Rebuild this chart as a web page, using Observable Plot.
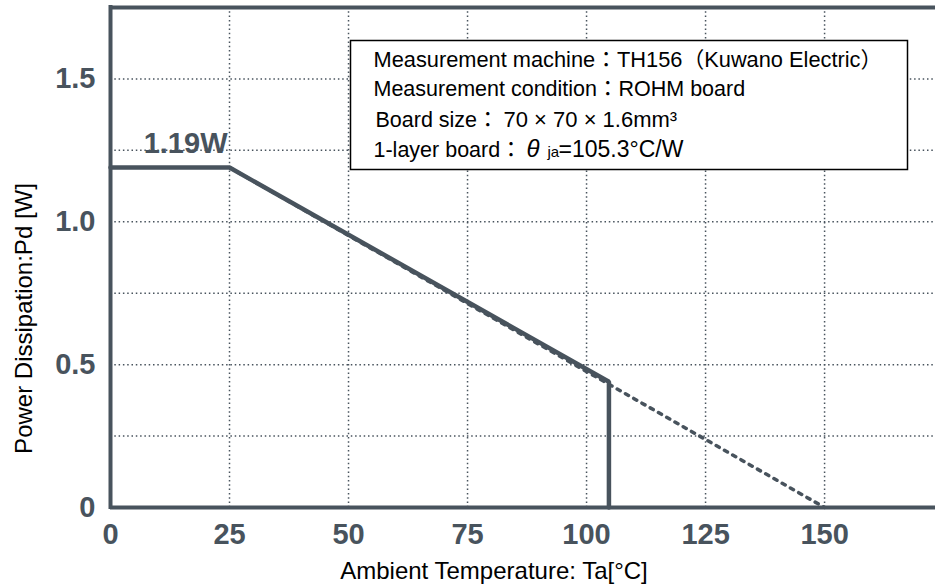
<!DOCTYPE html>
<html>
<head>
<meta charset="utf-8">
<script src="https://cdn.jsdelivr.net/npm/d3@7"></script>
<script src="https://cdn.jsdelivr.net/npm/@observablehq/plot@0.6"></script>
<style>
  html, body { margin: 0; padding: 0; background: #fff; overflow: hidden; }
  #chart svg { display: block; }
</style>
</head>
<body>
<div id="chart"></div>
<script>
// ---- data ----
const solidTemp = [0, 25, 104.7, 104.7];      // Ta [°C]
const solidPower = [1.19, 1.19, 0.44, 0];     // Pd [W]
const dottedTemp = [25, 150];
const dottedPower = [1.19, 0];
const peakPower = 1.19;
const peakTemp = 25;

const xTicks = [0, 25, 50, 75, 100, 125, 150];
const xTickLabels = ["0", "25", "50", "75", "100", "125", "150"];
const yTicks = [0, 0.5, 1.0, 1.5];
const yTickLabels = ["0", "0.5", "1.0", "1.5"];
const xGrid = [25, 50, 75, 100, 125, 150];
const yGrid = [0.25, 0.5, 0.75, 1.0, 1.25, 1.5];
const xDomain = [0, 173.3];
const yDomain = [0, 1.75];

const xTitle = "Ambient Temperature: Ta[°C]";
const yTitle = "Power Dissipation:Pd [W]";
const boxLine1 = "Measurement machine：TH156（Kuwano Electric）";
const boxLine2 = "Measurement condition：ROHM board";
const boxLine3a = "Board size：";
const boxLine3b = "70 × 70 × 1.6mm³";
const boxLine4a = "1-layer board：";
const boxLine4b = "θ";
const boxLine4c = "ja";
const boxLine4d = "=105.3°C/W";

// ---- build ----
const slate = "#48535d";
const font = "'Liberation Sans', Arial, 'Noto Sans CJK JP', sans-serif";

const solid = solidTemp.map((t, i) => ({t, p: solidPower[i]}));
const dotted = dottedTemp.map((t, i) => ({t, p: dottedPower[i]}));

const boxText = (text, dx, dy, fontSize, extra = {}) =>
  Plot.text([text], {frameAnchor: "top-left", textAnchor: "start", lineAnchor: "bottom",
    dx, dy, fontSize, fill: "black", ...extra});

const chart = Plot.plot({
  width: 935,
  height: 587,
  marginLeft: 110,
  marginRight: 0,
  marginTop: 7,
  marginBottom: 80,
  style: {fontFamily: font, fontSize: "21px", background: "white", overflow: "visible"},
  x: {domain: xDomain},
  y: {domain: yDomain},
  marks: [
    // grid
    Plot.ruleX(xGrid, {stroke: slate, strokeWidth: 1.5, strokeDasharray: "1.5,2.8"}),
    Plot.ruleY(yGrid, {stroke: slate, strokeWidth: 1.5, strokeDasharray: "1.5,2.8"}),
    // derating lines
    Plot.line(dotted, {x: "t", y: "p", stroke: slate, strokeWidth: 3.5, strokeDasharray: "3.5,6"}),
    Plot.line(solid, {x: "t", y: "p", stroke: slate, strokeWidth: 4.5, strokeLinejoin: "miter"}),
    // peak label
    Plot.text([{t: peakTemp, p: peakPower}], {
      x: "t", y: "p", text: d => `${d.p}W`, textAnchor: "end", lineAnchor: "bottom",
      dx: -2, dy: -15, fontSize: 29, fontWeight: "bold", fill: slate
    }),
    // annotation box
    Plot.frame({fill: "white", stroke: "black", strokeWidth: 1.5,
      insetLeft: 240, insetRight: 28, insetTop: 33, insetBottom: 338}),
    boxText(boxLine1, 263, 59, 21.8),
    boxText(boxLine2, 263, 88, 21.5),
    boxText(boxLine3a, 265, 119, 21.5),
    boxText(boxLine3b, 393, 119, 22),
    boxText(boxLine4a, 263, 149, 21.5),
    boxText(boxLine4b, 416, 149, 24, {fontStyle: "italic"}),
    boxText(boxLine4c, 437, 149, 15),
    boxText(boxLine4d, 448, 149, 23),
    // axis frame (top, bottom, left)
    Plot.ruleY([yDomain[0], yDomain[1]], {stroke: slate, strokeWidth: 4}),
    Plot.ruleX([xDomain[0]], {stroke: slate, strokeWidth: 4, strokeLinecap: "square"}),
    // axes
    Plot.axisX({ticks: xTicks, tickFormat: d => xTickLabels[xTicks.indexOf(d)], tickSize: 0, tickPadding: 16,
      fontSize: 29, fontWeight: "bold", color: slate, label: null}),
    Plot.axisY({ticks: yTicks, tickFormat: d => yTickLabels[yTicks.indexOf(d)], tickSize: 0, tickPadding: 15,
      fontSize: 29, fontWeight: "bold", color: slate, label: null}),
    // axis titles
    Plot.text([xTitle], {frameAnchor: "bottom", textAnchor: "middle", lineAnchor: "bottom", dx: -29, dy: 71, fontSize: 24, fill: "black"}),
    Plot.text([yTitle], {frameAnchor: "left", textAnchor: "middle", lineAnchor: "bottom", rotate: -90, dx: -79, dy: 61, fontSize: 24, fill: "black"})
  ]
});
document.getElementById("chart").appendChild(chart);
</script>
</body>
</html>
